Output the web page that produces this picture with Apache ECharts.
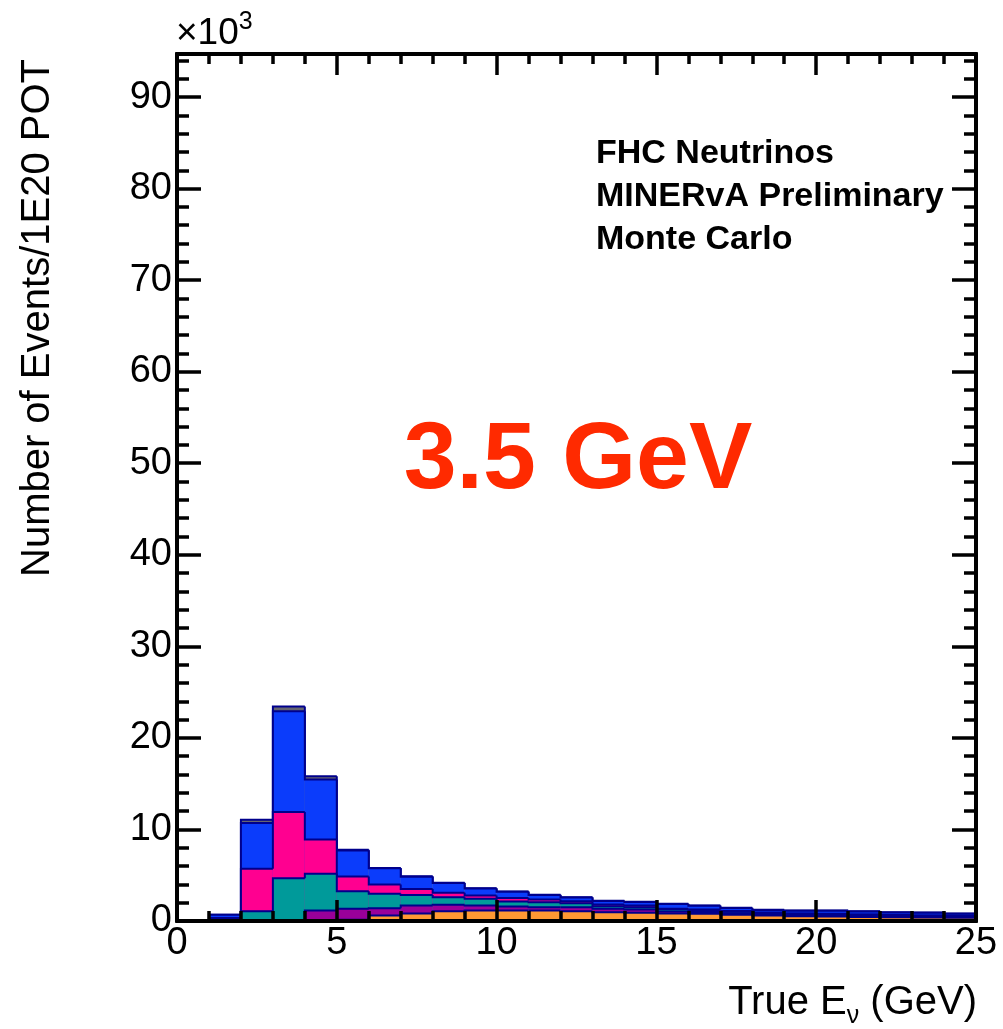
<!DOCTYPE html>
<html><head><meta charset="utf-8">
<script src="https://cdn.jsdelivr.net/npm/echarts@6/dist/echarts.min.js"></script>
<style>html,body{margin:0;padding:0;background:#fff}#c{width:1003px;height:1029px}</style>
</head><body><div id="c"></div>
<script>
// Bin lower edges (GeV), bin width 1 GeV
const binLow = [0,1,2,3,4,5,6,7,8,9,10,11,12,13,14,15,16,17,18,19,20,21,22,23,24];
const binWidth = 1;
// Layer contents per bin (x10^3 events / 1E20 POT), stacked bottom -> top
const orangeVals = [0,0,0,0,0.05,0.15,0.6,0.82,1.07,1.15,1.15,1.15,1.07,0.96,0.89,0.83,0.79,0.68,0.6,0.52,0.49,0.45,0.42,0.38,0.35];
const purpleVals = [0,0,0,0.05,1.1,1.18,0.8,0.88,0.7,0.54,0.43,0.35,0.43,0.37,0.37,0.22,0.2,0.18,0.15,0.14,0.13,0.12,0.11,0.1,0.09];
const tealVals   = [0,0.02,1.07,4.63,4.0,1.93,1.57,1.15,0.83,0.74,0.55,0.55,0.45,0.29,0.24,0.22,0.18,0.15,0.13,0.12,0.11,0.1,0.09,0.09,0.08];
const pinkVals   = [0,0.3,4.63,7.22,3.75,1.6,1.03,0.65,0.48,0.36,0.37,0.3,0.22,0.18,0.2,0.08,0.08,0.07,0.06,0.05,0.05,0.05,0.04,0.04,0.04];
const blueVals   = [0,0.35,5.0,11.0,6.56,2.84,1.75,1.34,1.06,0.76,0.7,0.49,0.41,0.38,0.38,0.51,0.42,0.34,0.26,0.3,0.35,0.33,0.28,0.29,0.24];
const grayVals   = [0,0.02,0.35,0.54,0.34,0.08,0.05,0.04,0.03,0.03,0.02,0.02,0.02,0.02,0.02,0.02,0.02,0.02,0.02,0.02,0.02,0.02,0.02,0.02,0.02];
const yTickLabels = [0,10,20,30,40,50,60,70,80,90];
const xTickLabels = [0,5,10,15,20,25];

const layers = [orangeVals, purpleVals, tealVals, pinkVals, blueVals, grayVals];
const layerColors = ['#ff9933','#990099','#009a9a','#ff0090','#0b3cfb','#666670'];
const outline = '#00008c';
const FONT = '"Liberation Sans", Arial, Helvetica, sans-serif';

// cumulative stacks
const cum = [];
let run = binLow.map(() => 0);
layers.forEach(vals => { run = run.map((r, i) => r + vals[i]); cum.push(run.slice()); });

const series = [];
// ROOT THStack style: draw cumulative hists from the top layer down
for (let k = layers.length - 1; k >= 0; k--) {
  const c = cum[k];
  const fillData = binLow.map((x, i) => [x, x + binWidth, 0, c[i]]);
  const lineData = binLow.map((x, i) => [x, x + binWidth, i > 0 ? c[i - 1] : 0, c[i], i === binLow.length - 1 ? 1 : 0]);
  const col = layerColors[k];
  series.push({
    type: 'custom', xAxisIndex: 0, yAxisIndex: 0, z: 2, silent: true, animation: false,
    encode: { x: [0, 1], y: [2, 3] }, data: fillData,
    renderItem: function (params, api) {
      const y1 = api.value(3);
      if (y1 <= 0) return null;
      const p0 = api.coord([api.value(0), y1]);
      const p1 = api.coord([api.value(1), 0]);
      return { type: 'rect', shape: { x: p0[0], y: p0[1], width: p1[0] - p0[0], height: p1[1] - p0[1] }, style: { fill: col } };
    }
  });
  series.push({
    type: 'custom', xAxisIndex: 0, yAxisIndex: 0, z: 2, silent: true, animation: false,
    encode: { x: [0, 1], y: [2, 3] }, data: lineData,
    renderItem: function (params, api) {
      const x0 = api.value(0), x1 = api.value(1), prev = api.value(2), top = api.value(3), last = api.value(4);
      if (top <= 0 && prev <= 0) return null;
      const pts = [api.coord([x0, prev]), api.coord([x0, top]), api.coord([x1, top])];
      if (last) pts.push(api.coord([x1, 0]));
      return { type: 'polyline', shape: { points: pts }, style: { fill: null, stroke: outline, lineWidth: 2 } };
    }
  });
}

function xAx(pos, interval, len, showLabel) {
  return {
    type: 'value', position: pos, min: 0, max: 25, interval: interval, z: 10,
    axisLine: { show: true, onZero: false, lineStyle: { color: '#000', width: 4 } },
    axisTick: { show: true, inside: true, length: len, lineStyle: { color: '#000', width: 3.5 } },
    axisLabel: { show: showLabel, color: '#000', fontSize: 38, fontFamily: FONT, margin: 4,
      formatter: v => (xTickLabels.indexOf(v) >= 0 ? String(v) : '') },
    splitLine: { show: false }
  };
}
function yAx(pos, interval, len, showLabel) {
  return {
    type: 'value', position: pos, min: 0, max: 94.7, interval: interval, z: 10,
    axisLine: { show: true, onZero: false, lineStyle: { color: '#000', width: 4 } },
    axisTick: { show: true, inside: true, length: len, lineStyle: { color: '#000', width: 3.5 } },
    axisLabel: { show: showLabel, color: '#000', fontSize: 38, fontFamily: FONT, margin: 5,
      formatter: v => (yTickLabels.indexOf(v) >= 0 ? String(v) : '') },
    splitLine: { show: false }
  };
}

const chart = echarts.init(document.getElementById('c'), null, { renderer: 'canvas' });
chart.setOption({
  animation: false,
  backgroundColor: '#fff',
  grid: { left: 177, right: 27, top: 54, bottom: 108, containLabel: false },
  xAxis: [xAx('bottom', 1, 10, false), xAx('bottom', 5, 21, true), xAx('top', 1, 10, false), xAx('top', 5, 21, false)],
  yAxis: [yAx('left', 2, 12, false), yAx('left', 10, 24, true), yAx('right', 2, 12, false), yAx('right', 10, 24, false)],
  series: series,
  graphic: [
    { type: 'text', left: 176, top: 10, z: 20, style: {
      text: '×10{sup|3}', fontSize: 37, fontFamily: FONT, fill: '#000',
      rich: { sup: { fontSize: 25, fontFamily: FONT, verticalAlign: 'top', lineHeight: 25, fill: '#000' } }, lineHeight: 48 } },
    { type: 'text', x: 58, y: 318, rotation: Math.PI / 2, z: 20, style: {
      text: 'Number of Events/1E20 POT', fontSize: 40, fontFamily: FONT, fill: '#000', align: 'center', verticalAlign: 'bottom' } },
    { type: 'text', right: 26, top: 982, z: 20, style: {
      text: 'True E{sub|ν} (GeV)', fontSize: 40, fontFamily: FONT, fill: '#000',
      rich: { sub: { fontSize: 25, fontFamily: FONT, fill: '#000', verticalAlign: 'top', lineHeight: 42, padding: [22, 0, 0, 0] } }, lineHeight: 42, verticalAlign: 'top' } },
    { type: 'text', left: 596, top: 132, z: 20, style: {
      text: 'FHC Neutrinos\nMINERvA Preliminary\nMonte Carlo', fontSize: 34, fontWeight: 'bold', fontFamily: FONT, fill: '#000', lineHeight: 43 } },
    { type: 'text', x: 578, y: 462, z: 20, style: {
      text: '3.5 GeV', fontSize: 95, fontWeight: 'bold', fontFamily: FONT, fill: '#ff2a00', align: 'center', verticalAlign: 'middle' } }
  ]
});
</script>
</body></html>
